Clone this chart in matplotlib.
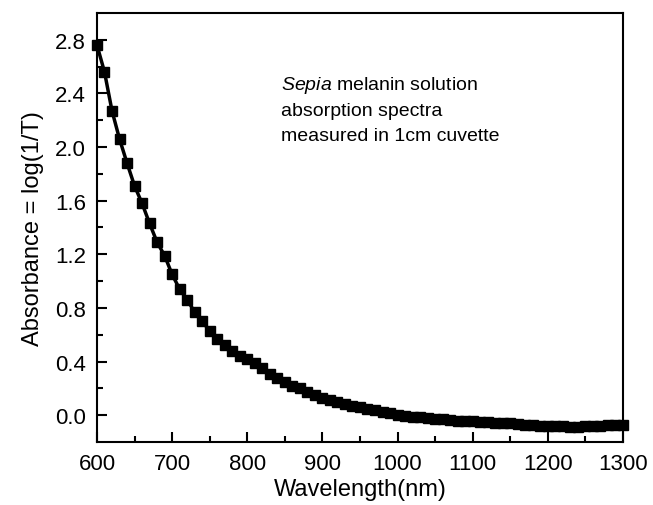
import matplotlib.pyplot as plt
import numpy as np

plt.rcParams["font.family"] = ["Liberation Sans", "DejaVu Sans"]
plt.rcParams["mathtext.fontset"] = "custom"
plt.rcParams["mathtext.rm"] = "Liberation Sans"
plt.rcParams["mathtext.it"] = "Liberation Sans:italic"

# wavelength (nm) and absorbance, every 10 nm
wavelength = np.arange(600, 1301, 10)
absorbance = [
    2.76, 2.56, 2.27, 2.06, 1.88, 1.71, 1.58, 1.43, 1.29, 1.19,
    1.05, 0.94, 0.86, 0.77, 0.70, 0.63, 0.57, 0.52, 0.48, 0.44,
    0.42, 0.39, 0.35, 0.31, 0.28, 0.25, 0.22, 0.20, 0.17, 0.15,
    0.13, 0.11, 0.095, 0.08, 0.07, 0.06, 0.045, 0.035, 0.025, 0.015,
    0.005, -0.005, -0.01, -0.015, -0.02, -0.025, -0.03, -0.035, -0.04, -0.045,
    -0.045, -0.05, -0.05, -0.055, -0.055, -0.06, -0.065, -0.07, -0.075, -0.08,
    -0.08, -0.08, -0.08, -0.085, -0.085, -0.08, -0.08, -0.08, -0.075, -0.07,
    -0.07,
]

x_ticks = np.arange(600, 1301, 100)
y_ticks = np.arange(0.0, 2.81, 0.4)

fig = plt.figure(figsize=(6.53, 5.06), dpi=100)
ax = fig.add_axes([0.1485, 0.1245, 0.8055, 0.848])

ax.plot(wavelength, absorbance, "-s", color="black", lw=2.5, ms=6.5, clip_on=False)

ax.set_xlim(600, 1300)
ax.set_ylim(-0.2, 3.0)
ax.set_xticks(x_ticks)
ax.set_xticks(np.arange(650, 1300, 100), minor=True)
ax.set_yticks(y_ticks)
ax.set_yticks(np.arange(0.2, 3.0, 0.4), minor=True)
ax.set_yticklabels([f"{v:.1f}" for v in y_ticks])

ax.tick_params(which="both", direction="in", labelsize=16, width=1.5)
ax.tick_params(which="major", length=7, pad=8)
ax.tick_params(which="minor", length=4)
for s in ax.spines.values():
    s.set_linewidth(1.5)

ax.set_xlabel("Wavelength(nm)", fontsize=17, labelpad=3)
ax.set_ylabel("Absorbance = log(1/T)", fontsize=17, labelpad=8)

notiz = [r"$\it{Sepia}$ melanin solution", "absorption spectra", "measured in 1cm cuvette"]
for i, vrstica in enumerate(notiz):
    ax.text(0.35, 0.823 - i * 0.06, vrstica, transform=ax.transAxes,
            fontsize=14, va="baseline")

fig.savefig("out.png", dpi=100)
